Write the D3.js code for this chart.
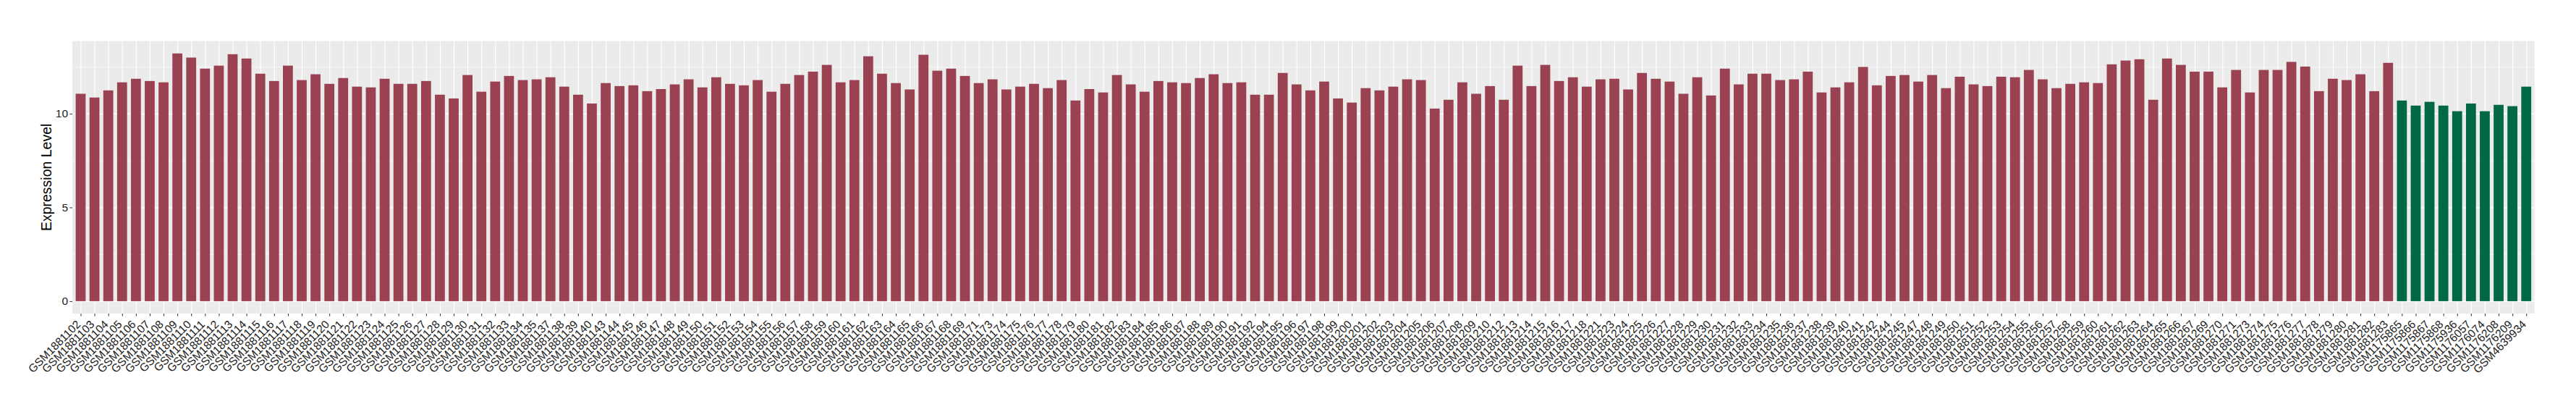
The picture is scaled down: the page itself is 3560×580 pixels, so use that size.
<!DOCTYPE html>
<html>
<head>
<meta charset="utf-8">
<script src="https://cdn.jsdelivr.net/npm/d3@7/dist/d3.min.js"></script>
<style>
body{margin:0;background:#fff}
text{font-family:"Liberation Sans",Arial,Helvetica,sans-serif}
</style>
</head>
<body>
<div id="canvas"></div>
<script>
// samples in plotting order, first group (red) then second group (green)
const tumorSamples = [
"GSM1881102","GSM1881103","GSM1881104","GSM1881105","GSM1881106","GSM1881107","GSM1881108","GSM1881109","GSM1881110","GSM1881111",
"GSM1881112","GSM1881113","GSM1881114","GSM1881115","GSM1881116","GSM1881117","GSM1881118","GSM1881119","GSM1881120","GSM1881121",
"GSM1881122","GSM1881123","GSM1881124","GSM1881125","GSM1881126","GSM1881127","GSM1881128","GSM1881129","GSM1881130","GSM1881131",
"GSM1881132","GSM1881133","GSM1881134","GSM1881135","GSM1881137","GSM1881138","GSM1881139","GSM1881140","GSM1881143","GSM1881144",
"GSM1881145","GSM1881146","GSM1881147","GSM1881148","GSM1881149","GSM1881150","GSM1881151","GSM1881152","GSM1881153","GSM1881154",
"GSM1881155","GSM1881156","GSM1881157","GSM1881158","GSM1881159","GSM1881160","GSM1881161","GSM1881162","GSM1881163","GSM1881164",
"GSM1881165","GSM1881166","GSM1881167","GSM1881168","GSM1881169","GSM1881171","GSM1881173","GSM1881174","GSM1881175","GSM1881176",
"GSM1881177","GSM1881178","GSM1881179","GSM1881180","GSM1881181","GSM1881182","GSM1881183","GSM1881184","GSM1881185","GSM1881186",
"GSM1881187","GSM1881188","GSM1881189","GSM1881190","GSM1881191","GSM1881192","GSM1881194","GSM1881195","GSM1881196","GSM1881197",
"GSM1881198","GSM1881199","GSM1881200","GSM1881201","GSM1881202","GSM1881203","GSM1881204","GSM1881205","GSM1881206","GSM1881207",
"GSM1881208","GSM1881209","GSM1881210","GSM1881212","GSM1881213","GSM1881214","GSM1881215","GSM1881216","GSM1881217","GSM1881218",
"GSM1881221","GSM1881223","GSM1881224","GSM1881225","GSM1881226","GSM1881227","GSM1881228","GSM1881229","GSM1881230","GSM1881231",
"GSM1881232","GSM1881233","GSM1881234","GSM1881235","GSM1881236","GSM1881237","GSM1881238","GSM1881239","GSM1881240","GSM1881241",
"GSM1881242","GSM1881244","GSM1881245","GSM1881247","GSM1881248","GSM1881249","GSM1881250","GSM1881251","GSM1881252","GSM1881253",
"GSM1881254","GSM1881255","GSM1881256","GSM1881257","GSM1881258","GSM1881259","GSM1881260","GSM1881261","GSM1881262","GSM1881263",
"GSM1881264","GSM1881265","GSM1881266","GSM1881267","GSM1881269","GSM1881270","GSM1881271","GSM1881273","GSM1881274","GSM1881275",
"GSM1881276","GSM1881277","GSM1881278","GSM1881279","GSM1881280","GSM1881281","GSM1881282","GSM1881283"
]
const tumorValues = [
11.06,10.86,11.24,11.67,11.86,11.74,11.67,13.21,12.99,12.40,
12.56,13.17,12.94,12.13,11.74,12.56,11.79,12.10,11.59,11.90,
11.44,11.40,11.86,11.59,11.59,11.74,11.01,10.81,12.06,11.17,
11.71,12.01,11.79,11.83,11.94,11.44,11.01,10.54,11.63,11.47,
11.51,11.20,11.31,11.56,11.83,11.40,11.94,11.59,11.51,11.79,
11.17,11.59,12.06,12.24,12.60,11.67,11.79,13.06,12.13,11.63,
11.29,13.14,12.29,12.40,12.01,11.63,11.83,11.29,11.44,11.59,
11.36,11.79,10.70,11.31,11.13,12.06,11.56,11.17,11.74,11.67,
11.63,11.90,12.10,11.63,11.67,11.01,11.01,12.17,11.56,11.24,
11.71,10.81,10.59,11.36,11.24,11.44,11.83,11.79,10.27,10.74,
11.67,11.06,11.47,10.74,12.56,11.47,12.60,11.74,11.94,11.44,
11.83,11.86,11.29,12.17,11.86,11.71,11.06,11.94,10.97,12.40,
11.56,12.13,12.13,11.79,11.83,12.24,11.13,11.40,11.67,12.49,
11.51,12.01,12.06,11.71,12.06,11.36,11.97,11.56,11.47,11.97,
11.94,12.33,11.83,11.36,11.59,11.67,11.63,12.63,12.83,12.90,
10.74,12.94,12.60,12.24,12.24,11.40,12.33,11.13,12.33,12.33,
12.76,12.51,11.20,11.86,11.79,12.10,11.20,12.71
]
const normalSamples = ["GSM1175865","GSM1175866","GSM1175867","GSM1175868","GSM1175936","GSM1176057","GSM1176074","GSM1176208","GSM1176209","GSM4639934"]
const normalValues = [10.70,10.43,10.63,10.43,10.13,10.54,10.13,10.47,10.40,11.44]

const yTicks = [0,5,10]
const yMinorTicks = [2.5,7.5,12.5]
const yTitle = "Expression Level"
const colors = {tumor:"#9A4251", normal:"#016846"}

const data = tumorSamples.map((s,i)=>({name:s, value:tumorValues[i], group:"tumor"}))
    .concat(normalSamples.map((s,i)=>({name:s, value:normalValues[i], group:"normal"})))

const canvas = d3.select("#canvas")
const width = 3560
const height = 580
const margin = {top:56.7, left:100, bottom:147, right:57.3}
const iwidth = width-margin.left-margin.right
const iheight = height-margin.top-margin.bottom

const svg = canvas.append("svg")
    .attr("width",width)
    .attr("height",height)
svg.append("rect").attr("width",width).attr("height",height).style("fill","#fff")

let g = svg.append("g").attr("transform",`translate(${margin.left},${margin.top})`)

// ggplot style: points with 0.6 step of room on both ends
const x = d3.scalePoint()
    .domain(data.map(d=>d.name))
    .range([0,iwidth])
    .padding(0.6)

const ymax = d3.max(data,d=>d.value)
const y = d3.scaleLinear()
    .domain([-0.05*ymax, 1.05*ymax])
    .range([iheight,0])

const barW = x.step()*0.72

// panel
g.append("rect")
    .attr("width",iwidth)
    .attr("height",iheight)
    .style("fill","#EBEBEB")

// grid
g.append("g")
    .attr("class","grid-minor")
    .call(d3.axisLeft(y).tickValues(yMinorTicks).tickSize(-iwidth).tickFormat(""))
    .call(s=>s.select(".domain").remove())
    .call(s=>s.selectAll("line").style("stroke","#fff").style("stroke-width",0.6))

g.append("g")
    .attr("class","grid-major")
    .call(d3.axisLeft(y).tickValues(yTicks).tickSize(-iwidth).tickFormat(""))
    .call(s=>s.select(".domain").remove())
    .call(s=>s.selectAll("line").style("stroke","#fff").style("stroke-width",1.2))

g.append("g")
    .attr("class","grid-x")
    .attr("transform",`translate(0,${iheight})`)
    .call(d3.axisBottom(x).tickSize(-iheight).tickFormat(""))
    .call(s=>s.select(".domain").remove())
    .call(s=>s.selectAll("line").style("stroke","#fff").style("stroke-width",1.2))

// bars
g.selectAll("rect.bar").data(data)
    .enter().append("rect")
    .attr("class","bar")
    .attr("x",d=>x(d.name)-barW/2)
    .attr("y",d=>y(d.value))
    .attr("width",barW)
    .attr("height",d=>y(0)-y(d.value))
    .style("fill",d=>colors[d.group])

// axes
g.append("g")
    .classed("y--axis",true)
    .call(d3.axisLeft(y).tickValues(yTicks).tickSize(3.7).tickPadding(2.2))
    .call(s=>s.select(".domain").remove())
    .call(s=>s.selectAll("line").style("stroke","#333").style("stroke-width",1))
    .call(s=>s.selectAll("text").style("font-size","15.5px").style("fill","#222")
        .style("font-family",'"Liberation Sans",Arial,sans-serif'))

g.append("g")
    .classed("x--axis",true)
    .attr("transform",`translate(0,${iheight})`)
    .call(d3.axisBottom(x).tickSize(3.7))
    .call(s=>s.select(".domain").remove())
    .call(s=>s.selectAll("line").style("stroke","#333").style("stroke-width",1))
    .call(s=>s.selectAll("text")
        .attr("x",0).attr("y",0).attr("dy","0.35em")
        .attr("text-anchor","end")
        .attr("transform","translate(-3.5,12) rotate(-45)")
        .style("font-size","15.5px").style("fill","#222")
        .style("font-family",'"Liberation Sans",Arial,sans-serif'))

svg.append("text")
    .attr("transform",`translate(71,${margin.top+iheight/2}) rotate(-90)`)
    .attr("text-anchor","middle")
    .style("font-size","19.5px")
    .style("fill","#000")
    .text(yTitle)
</script>
</body>
</html>
